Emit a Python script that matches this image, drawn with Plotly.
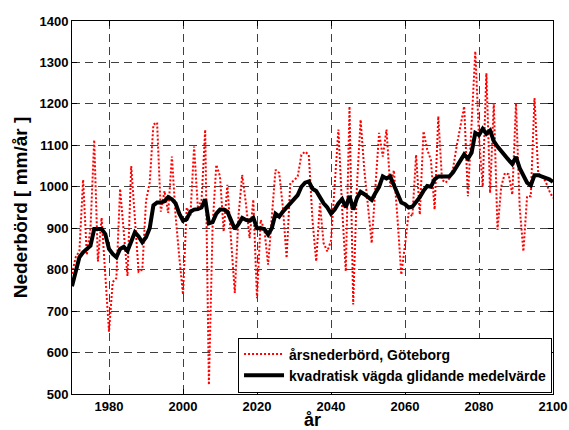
import plotly.graph_objects as go

years = list(range(1970, 2101))

annual = [
    790, 830, 845, 1017, 835, 900, 1113, 820, 925, 790,      # 1970-1979
    650, 770, 780, 995, 890, 785, 1050, 920, 795, 800,       # 1980-1989
    965, 1010, 1150, 1155, 940, 990, 937, 1073, 930, 830,    # 1990-1999
    740, 950, 930, 1097, 952, 965, 1138, 522, 905, 1053,     # 2000-2009
    1025, 892, 1005, 870, 744, 930, 1029, 960, 876, 969,     # 2010-2019
    731, 920, 896, 812, 930, 1041, 1033, 950, 828, 1009,     # 2020-2029
    1015, 1025, 1077, 1085, 1077, 920, 820, 960, 864, 844,   # 2030-2039
    870, 1000, 1138, 950, 796, 1194, 716, 1000, 1162, 1041,  # 2040-2049
    950, 864, 1000, 1130, 1073, 1138, 1000, 1040, 920, 788,  # 2050-2059
    860, 937, 929, 1077, 933, 1134, 1090, 1065, 945, 1170,   # 2060-2069
    1017, 1010, 1020, 1045, 1100, 1146, 1194, 977, 1150, 1327,  # 2070-2079
    1120, 1000, 1274, 985, 1202, 896, 1000, 1033, 1030, 981,  # 2080-2089
    1202, 950, 844, 977, 977, 1214, 1033, 1025, 1013, 990,   # 2090-2099
    973,                                                      # 2100
]

smoothed = [
    760, 798, 830, 842, 850, 858, 898, 898, 898, 886,        # 1970-1979
    850, 838, 830, 850, 855, 845, 870, 890, 880, 866,        # 1980-1989
    878, 900, 955, 962, 962, 965, 975, 970, 960, 935,        # 1990-1999
    918, 922, 940, 945, 946, 950, 970, 912, 915, 935,        # 2000-2009
    945, 945, 940, 916, 898, 910, 925, 920, 918, 925,        # 2010-2019
    900, 900, 898, 885, 900, 935, 928, 940, 950, 960,        # 2020-2029
    970, 980, 1000, 1010, 1013, 995, 990, 975, 960, 950,     # 2030-2039
    935, 945, 960, 970, 950, 978, 945, 972, 988, 982,        # 2040-2049
    975, 968, 985, 1000, 1025, 1020, 1025, 1005, 985, 962,   # 2050-2059
    958, 950, 952, 962, 975, 990, 1002, 1000, 1018, 1025,    # 2060-2069
    1025, 1025, 1025, 1035, 1050, 1065, 1078, 1068, 1082, 1130,  # 2070-2079
    1125, 1140, 1128, 1136, 1110, 1097, 1085, 1077, 1065, 1055,  # 2080-2089
    1072, 1045, 1025, 1010, 1003, 1028, 1028, 1025, 1022, 1018,  # 2090-2099
    1012,                                                     # 2100
]

x_ticks = [1980, 2000, 2020, 2040, 2060, 2080, 2100]
y_ticks = [500, 600, 700, 800, 900, 1000, 1100, 1200, 1300, 1400]

FONT = "Liberation Sans, Arial, sans-serif"

fig = go.Figure()
fig.add_trace(go.Scatter(
    x=years, y=annual, mode="lines",
    name="<b>årsnederbörd, Göteborg</b>",
    line=dict(color="#ff0000", width=2, dash="2px,2px"),
))
fig.add_trace(go.Scatter(
    x=years, y=smoothed, mode="lines",
    name="<b>kvadratisk vägda glidande medelvärde</b>",
    line=dict(color="#000000", width=4),
))

axis_common = dict(
    showline=True, linecolor="black", linewidth=1, mirror="ticks",
    ticks="inside", ticklen=5, tickcolor="black",
    showgrid=True, gridcolor="#404040", gridwidth=1, griddash="8px,5px",
    zeroline=False, automargin=False,
    tickfont=dict(family=FONT, size=13, color="black", weight="bold"),
)

fig.update_xaxes(
    range=[1970, 2100], tickvals=x_ticks,
    title=dict(text="<b>år</b>", font=dict(family=FONT, size=18, color="black"), standoff=2),
    **axis_common,
)
fig.update_yaxes(
    range=[500, 1400], tickvals=y_ticks,
    title=dict(text="<b>Nederbörd [ mm/år ]</b>", font=dict(family=FONT, size=19, color="black"), standoff=6),
    **axis_common,
)

fig.update_layout(
    width=569, height=430,
    margin=dict(l=72, r=16, t=21, b=36, autoexpand=False),
    paper_bgcolor="white", plot_bgcolor="white",
    showlegend=True,
    legend=dict(
        x=0.998, y=0.004, xanchor="right", yanchor="bottom",
        bgcolor="white", bordercolor="black", borderwidth=1,
        font=dict(family=FONT, size=14, color="black"),
        tracegroupgap=0, itemwidth=40,
    ),
)

fig.write_html("out.html")
